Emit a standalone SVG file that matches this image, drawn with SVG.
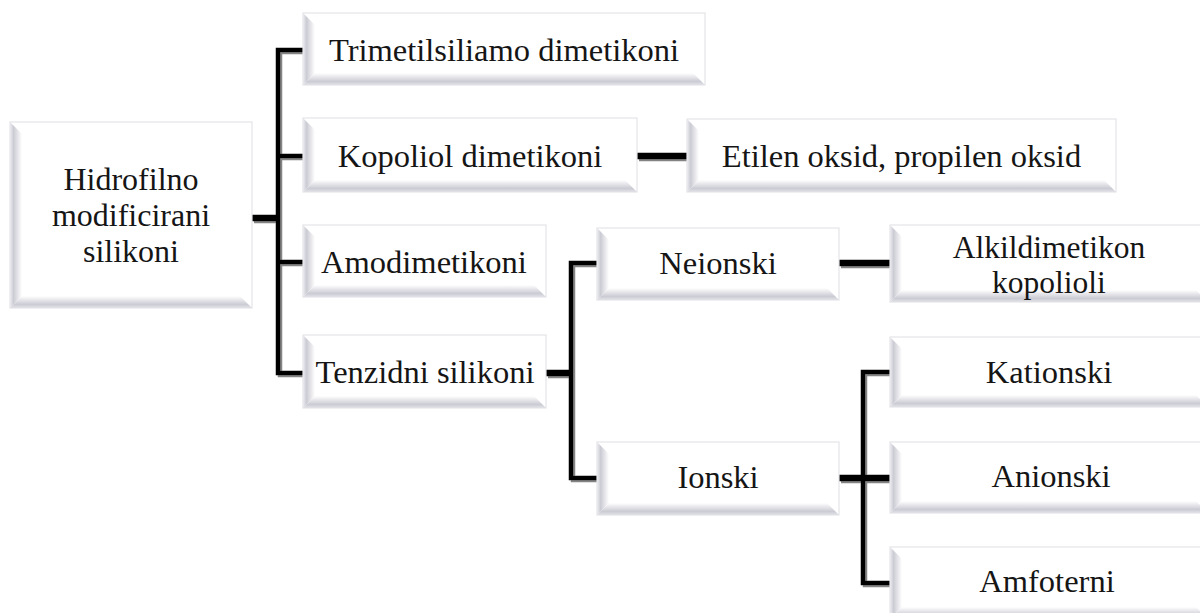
<svg xmlns="http://www.w3.org/2000/svg" width="1200" height="613" viewBox="0 0 1200 613">
<style>
.box{fill:#ffffff;stroke:#e4e4e8;stroke-width:1.2}
.bl{fill:url(#gl)}
.bb{fill:url(#gb)}
.t{font-family:"Liberation Serif","Times New Roman",serif;font-size:32.5px;fill:#151515;text-anchor:middle}
.m1{font-size:32px}
.m2{font-size:31.5px}
.c{fill:none;stroke:#000;stroke-linejoin:miter}
.w4{stroke-width:4.5}
.w6{stroke-width:6.5}
</style>
<defs>
<linearGradient id="gl" x1="0" y1="0" x2="1" y2="0">
<stop offset="0" stop-color="#ececf0"/>
<stop offset="0.3" stop-color="#cbcbd4"/>
<stop offset="1" stop-color="#ffffff"/>
</linearGradient>
<linearGradient id="gb" x1="0" y1="0" x2="0" y2="1">
<stop offset="0" stop-color="#ffffff"/>
<stop offset="0.7" stop-color="#cbcbd4"/>
<stop offset="1" stop-color="#e2e2e8"/>
</linearGradient>
<filter id="sh" x="-10%" y="-10%" width="120%" height="120%">
<feDropShadow dx="2" dy="2" stdDeviation="0.6" flood-color="#777" flood-opacity="0.9"/>
</filter>
</defs>
<rect width="1200" height="613" fill="#ffffff"/>

<g id="connectors" filter="url(#sh)">
<path class="c w6" d="M252,218 H278"/>
<path class="c w4" d="M303,50 H278 V373 H303 M278,156 H303 M278,262 H303"/>
<path class="c w6" d="M637,156 H687"/>
<path class="c w6" d="M546,373 H571"/>
<path class="c w4" d="M597,263 H571 V478 H597"/>
<path class="c w6" d="M839,263 H890"/>
<path class="c w6" d="M839,478 H890"/>
<path class="c w4" d="M890,372 H863 V583 H890"/>
</g>

<g id="root">
<rect class="box" x="10" y="122" width="242" height="186"/>
<polygon class="bl" points="10,122 22,134 22,296 10,308"/>
<polygon class="bb" points="10,308 22,296 240,296 252,308"/>
<text class="t m1" x="131" y="190">Hidrofilno</text>
<text class="t m1" x="131" y="226">modificirani</text>
<text class="t m1" x="131" y="262">silikoni</text>
</g>

<g id="trimetil">
<rect class="box" x="303" y="13" width="402" height="72"/>
<polygon class="bl" points="303,13 315,25 315,73 303,85"/>
<polygon class="bb" points="303,85 315,73 693,73 705,85"/>
<text class="t" x="504" y="61">Trimetilsiliamo dimetikoni</text>
</g>

<g id="kopoliol">
<rect class="box" x="303" y="118" width="334" height="74"/>
<polygon class="bl" points="303,118 315,130 315,180 303,192"/>
<polygon class="bb" points="303,192 315,180 625,180 637,192"/>
<text class="t" x="470" y="167">Kopoliol dimetikoni</text>
</g>

<g id="etilen">
<rect class="box" x="687" y="119" width="429" height="73"/>
<polygon class="bl" points="687,119 699,131 699,180 687,192"/>
<polygon class="bb" points="687,192 699,180 1104,180 1116,192"/>
<text class="t" x="901.5" y="167">Etilen oksid, propilen oksid</text>
</g>

<g id="amodimetikoni">
<rect class="box" x="303" y="225" width="243" height="72"/>
<polygon class="bl" points="303,225 315,237 315,285 303,297"/>
<polygon class="bb" points="303,297 315,285 534,285 546,297"/>
<text class="t" x="424" y="273">Amodimetikoni</text>
</g>

<g id="tenzidni">
<rect class="box" x="303" y="335" width="243" height="73"/>
<polygon class="bl" points="303,335 315,347 315,396 303,408"/>
<polygon class="bb" points="303,408 315,396 534,396 546,408"/>
<text class="t" x="425" y="383">Tenzidni silikoni</text>
</g>

<g id="neionski">
<rect class="box" x="597" y="228" width="242" height="72"/>
<polygon class="bl" points="597,228 609,240 609,288 597,300"/>
<polygon class="bb" points="597,300 609,288 827,288 839,300"/>
<text class="t" x="718" y="274">Neionski</text>
</g>

<g id="ionski">
<rect class="box" x="597" y="442" width="242" height="73"/>
<polygon class="bl" points="597,442 609,454 609,503 597,515"/>
<polygon class="bb" points="597,515 609,503 827,503 839,515"/>
<text class="t" x="718" y="488">Ionski</text>
</g>

<g id="alkil">
<rect class="box" x="890" y="225" width="318" height="77"/>
<polygon class="bl" points="890,225 902,237 902,290 890,302"/>
<polygon class="bb" points="890,302 902,290 1196,290 1208,302"/>
<text class="t m2" x="1049" y="258">Alkildimetikon</text>
<text class="t m2" x="1049" y="293">kopolioli</text>
</g>

<g id="kationski">
<rect class="box" x="890" y="337" width="318" height="70"/>
<polygon class="bl" points="890,337 902,349 902,395 890,407"/>
<polygon class="bb" points="890,407 902,395 1196,395 1208,407"/>
<text class="t" x="1049" y="383">Kationski</text>
</g>

<g id="anionski">
<rect class="box" x="890" y="442" width="318" height="71"/>
<polygon class="bl" points="890,442 902,454 902,501 890,513"/>
<polygon class="bb" points="890,513 902,501 1196,501 1208,513"/>
<text class="t" x="1051" y="487">Anionski</text>
</g>

<g id="amfoterni">
<rect class="box" x="890" y="547" width="318" height="72"/>
<polygon class="bl" points="890,547 902,559 902,607 890,619"/>
<polygon class="bb" points="890,619 902,607 1196,607 1208,619"/>
<text class="t" x="1047" y="592">Amfoterni</text>
</g>
</svg>
